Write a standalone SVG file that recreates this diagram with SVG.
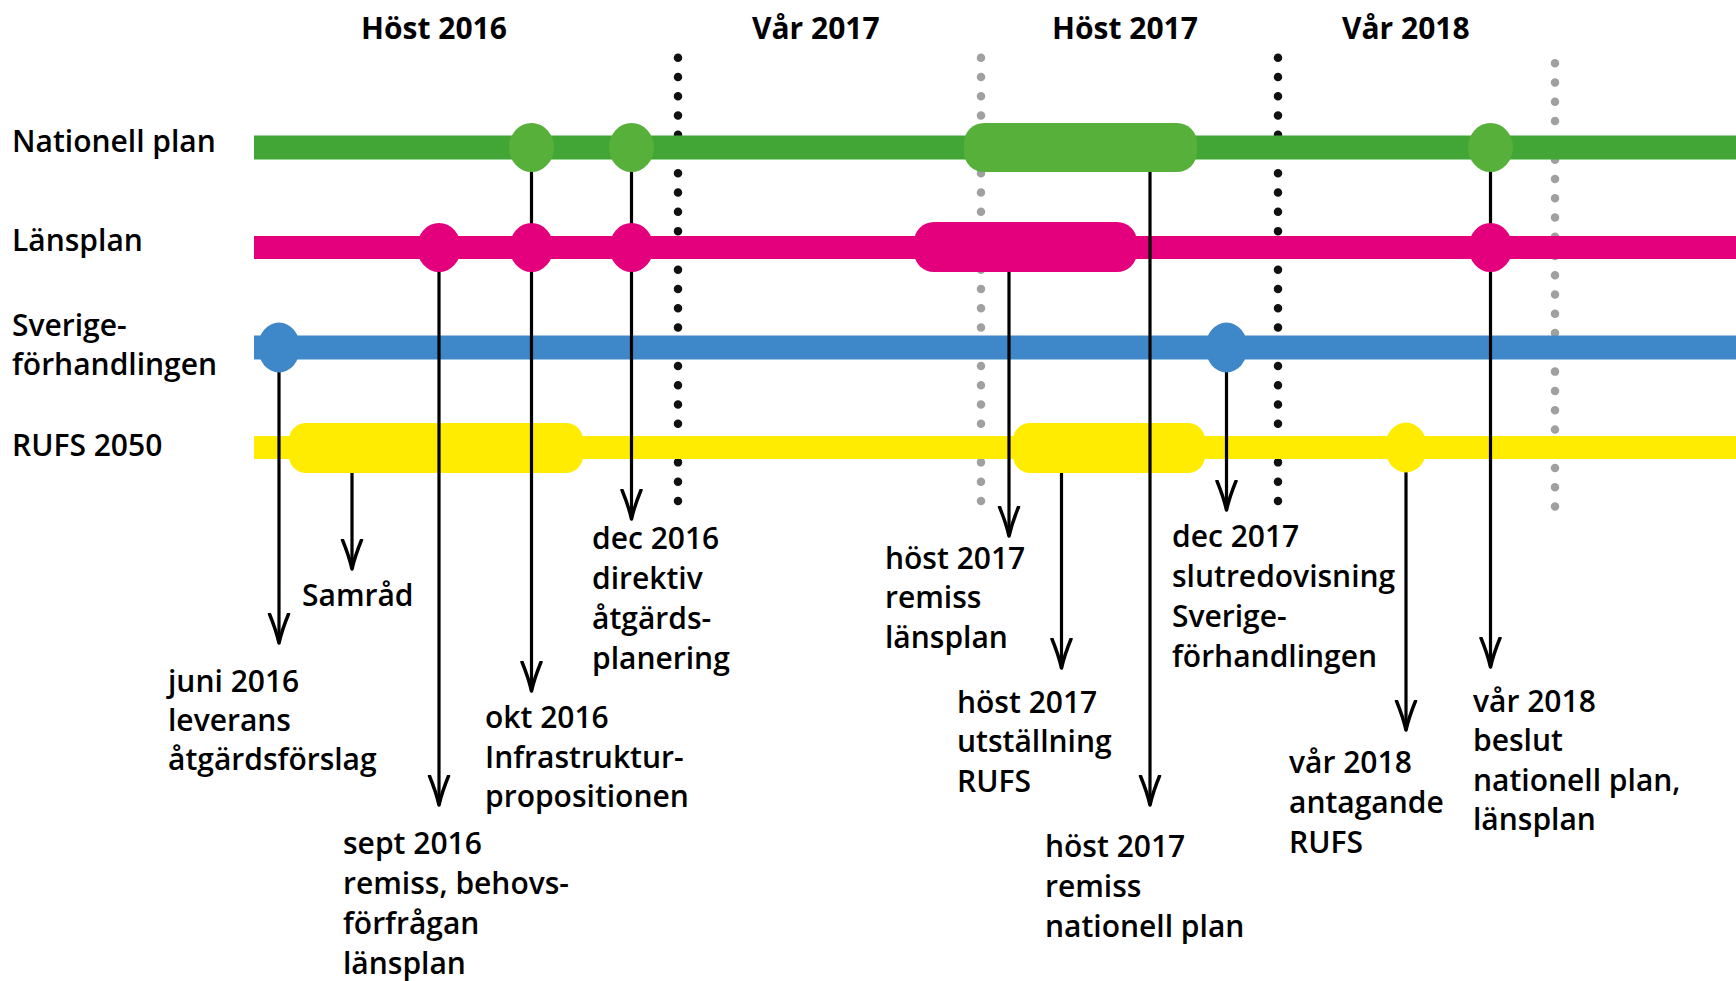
<svg xmlns="http://www.w3.org/2000/svg" width="1736" height="981" viewBox="0 0 1736 981">
<defs>
<style>
text{font-family:"Open Sans","Liberation Sans",sans-serif;font-weight:600;font-size:30px;fill:#000}
.hdr{font-weight:700}
.dotb{stroke:#111;stroke-width:8.5;stroke-linecap:round;stroke-dasharray:0 19.27;fill:none}
.dotg{stroke:#a0a0a0;stroke-width:8.5;stroke-linecap:round;stroke-dasharray:0 19.27;fill:none}
.conn{stroke:#000;stroke-width:3.2;fill:none;marker-end:url(#arr)}
.g{fill:#41a636}.gl{fill:#57b03a}.p{fill:#e4007c}.b{fill:#3e87c8}.y{fill:#ffec00}
</style>
<marker id="arr" markerUnits="userSpaceOnUse" markerWidth="34" markerHeight="26" viewBox="0 0 34 26" refX="30" refY="13" orient="auto">
<path d="M1,3.5 Q17,10 30,13 Q17,16 1,22.5" stroke="#000" stroke-width="3.4" fill="none" stroke-linejoin="round" stroke-linecap="round"/>
</marker>
</defs>
<rect width="1736" height="981" fill="#fff"/>

<g id="headers">
<text class="hdr" x="361" y="39">Höst 2016</text>
<text class="hdr" x="752" y="39">Vår 2017</text>
<text class="hdr" x="1052" y="39">Höst 2017</text>
<text class="hdr" x="1342" y="39">Vår 2018</text>
</g>

<g id="dividers">
<line class="dotb" x1="678" y1="57.7" x2="678" y2="501"/>
<line class="dotg" x1="981" y1="57.7" x2="981" y2="501"/>
<line class="dotb" x1="1278" y1="57.7" x2="1278" y2="501"/>
<line class="dotg" x1="1555" y1="63.3" x2="1555" y2="507"/>
</g>

<g id="track-nationell">
<rect class="g" x="254" y="135.5" width="1482" height="24"/>
<text x="12" y="152">Nationell plan</text>
</g>
<g id="track-lansplan">
<rect class="p" x="254" y="236" width="1482" height="23"/>
<text x="12" y="251">Länsplan</text>
</g>
<g id="track-sverige">
<rect class="b" x="254" y="335.5" width="1482" height="24"/>
<text x="12" y="336">Sverige-</text>
<text x="12" y="375">förhandlingen</text>
</g>
<g id="track-rufs">
<rect class="y" x="254" y="436" width="1482" height="23"/>
<text x="12" y="456">RUFS 2050</text>
</g>

<g id="periods">
<rect id="pill-rufs-samrad" class="y" x="289" y="423" width="294" height="50" rx="17"/>
<rect id="pill-nat-host2017" class="gl" x="964" y="123" width="233" height="49" rx="20"/>
<rect id="pill-lan-host2017" class="p" x="914" y="222" width="223" height="50" rx="20"/>
<rect id="pill-rufs-host2017" class="y" x="1013" y="423" width="192" height="50" rx="17"/>
</g>

<g id="connectors">
<line class="conn" x1="279" y1="365" x2="279" y2="643"/>
<line class="conn" x1="352" y1="473" x2="352" y2="569"/>
<line class="conn" x1="439" y1="265" x2="439" y2="805"/>
<line class="conn" x1="531.5" y1="165" x2="531.5" y2="691"/>
<line class="conn" x1="631.5" y1="165" x2="631.5" y2="519"/>
<line class="conn" x1="1009" y1="272" x2="1009" y2="536"/>
<line class="conn" x1="1061.5" y1="473" x2="1061.5" y2="668"/>
<line class="conn" x1="1150" y1="172" x2="1150" y2="805"/>
<line class="conn" x1="1226.5" y1="365" x2="1226.5" y2="510"/>
<line class="conn" x1="1406" y1="465" x2="1406" y2="730"/>
<line class="conn" x1="1490.5" y1="165" x2="1490.5" y2="667"/>
</g>

<g id="milestones">
<ellipse class="gl" cx="531.5" cy="147.5" rx="22.5" ry="24.5"/>
<ellipse class="gl" cx="631.5" cy="147.5" rx="22.5" ry="24.5"/>
<ellipse class="gl" cx="1490.5" cy="147.5" rx="22.5" ry="24.5"/>
<ellipse class="p" cx="439" cy="247.5" rx="22" ry="24.5"/>
<ellipse class="p" cx="531.5" cy="247.5" rx="22" ry="24.5"/>
<ellipse class="p" cx="631.5" cy="247.5" rx="22" ry="24.5"/>
<ellipse class="p" cx="1490.5" cy="247.5" rx="22" ry="24.5"/>
<ellipse class="b" cx="279" cy="347.5" rx="21" ry="25"/>
<ellipse class="b" cx="1226.5" cy="347.5" rx="21" ry="25"/>
<ellipse class="y" cx="1406" cy="447.5" rx="21" ry="25"/>
</g>

<g id="label-juni2016">
<text x="168" y="692">juni 2016</text>
<text x="168" y="731">leverans</text>
<text x="168" y="770">åtgärdsförslag</text>
</g>
<g id="label-samrad">
<text x="302" y="606">Samråd</text>
</g>
<g id="label-sept2016">
<text x="343" y="854">sept 2016</text>
<text x="343" y="894">remiss, behovs-</text>
<text x="343" y="934">förfrågan</text>
<text x="343" y="974">länsplan</text>
</g>
<g id="label-okt2016">
<text x="485" y="728">okt 2016</text>
<text x="485" y="768">Infrastruktur-</text>
<text x="485" y="807">propositionen</text>
</g>
<g id="label-dec2016">
<text x="592" y="549">dec 2016</text>
<text x="592" y="589">direktiv</text>
<text x="592" y="629">åtgärds-</text>
<text x="592" y="669">planering</text>
</g>
<g id="label-host2017-lansplan">
<text x="885" y="569">höst 2017</text>
<text x="885" y="608">remiss</text>
<text x="885" y="648">länsplan</text>
</g>
<g id="label-host2017-rufs">
<text x="957" y="713">höst 2017</text>
<text x="957" y="752">utställning</text>
<text x="957" y="792">RUFS</text>
</g>
<g id="label-host2017-nationell">
<text x="1045" y="857">höst 2017</text>
<text x="1045" y="897">remiss</text>
<text x="1045" y="937">nationell plan</text>
</g>
<g id="label-dec2017">
<text x="1172" y="547">dec 2017</text>
<text x="1172" y="587">slutredovisning</text>
<text x="1172" y="627">Sverige-</text>
<text x="1172" y="667">förhandlingen</text>
</g>
<g id="label-var2018-rufs">
<text x="1289" y="773">vår 2018</text>
<text x="1289" y="813">antagande</text>
<text x="1289" y="853">RUFS</text>
</g>
<g id="label-var2018-beslut">
<text x="1473" y="712">vår 2018</text>
<text x="1473" y="751">beslut</text>
<text x="1473" y="791">nationell plan,</text>
<text x="1473" y="830">länsplan</text>
</g>
</svg>
